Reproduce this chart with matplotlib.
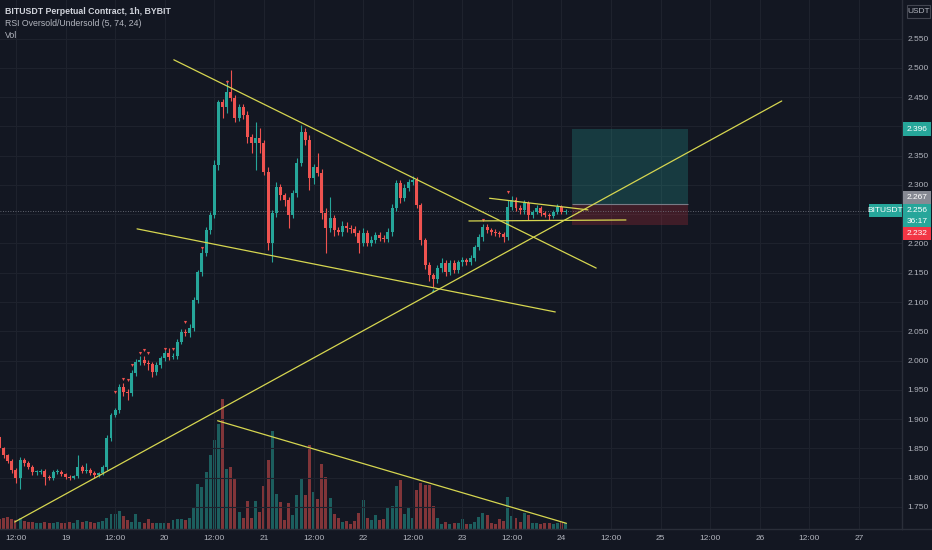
import numpy as np
import matplotlib
matplotlib.use("Agg")
import matplotlib.pyplot as plt
from matplotlib.patches import Rectangle

plt.rcParams['font.family'] = ['Liberation Sans', 'DejaVu Sans']

# ---------------- data ----------------
first_hour = 8          # first candle: 18th 08:00 (hours since 18th 00:00)
first_open = 1.869
closes = [1.850,1.838,1.828,1.813,1.799,1.830,1.825,1.818,1.809,1.809,
          1.811,1.801,1.800,1.809,1.810,1.806,1.801,1.800,1.802,1.818,
          1.811,1.813,1.808,1.804,1.808,1.818,1.868,1.907,1.915,1.955,
          1.946,1.944,1.979,1.997,2.001,1.996,1.994,1.980,1.992,2.004,
          2.013,2.006,2.008,2.032,2.049,2.047,2.056,2.103,2.151,2.184,
          2.223,2.249,2.334,2.442,2.433,2.459,2.449,2.415,2.433,2.420,
          2.382,2.372,2.380,2.372,2.322,2.201,2.252,2.297,2.283,2.274,
          2.249,2.286,2.338,2.391,2.377,2.312,2.331,2.321,2.252,2.226,
          2.244,2.223,2.220,2.230,2.226,2.224,2.218,2.201,2.218,2.201,
          2.206,2.215,2.209,2.208,2.220,2.261,2.303,2.278,2.295,2.305,
          2.309,2.266,2.206,2.163,2.146,2.140,2.158,2.167,2.151,2.167,
          2.155,2.168,2.172,2.168,2.175,2.194,2.211,2.228,2.223,2.220,
          2.218,2.216,2.211,2.262,2.274,2.261,2.257,2.269,2.249,2.254,
          2.261,2.252,2.249,2.247,2.254,2.262,2.254,2.256]
# upper / lower wick lengths in thousandths
wick_up = [4,3,3,4,3,5,4,3,3,4, 3,4,3,3,4,3,2,3,3,20, 4,12,3,3,2,3,5,3,4,5,
           6,5,4,5,6,7,5,4,5,4, 5,8,4,5,4,5,6,5,4,6, 5,5,8,3,5,20,38,5,6,5,
           6,6,28,17,5,8,6,8,5,4, 6,5,8,12,6,8,5,24,6,8, 36,5,6,8,6,5,6,5,8,5,
           6,5,4,5,6,7,5,5,6,5, 6,5,4,4,6,4,6,8,5,4, 5,4,5,4,6,4,5,6,5,4,
           4,3,4,12,8,5,4,5,4,4, 5,3,4,3,4,5,4,3]
wick_dn = [5,4,4,5,8,18,5,4,4,5, 3,14,4,5,3,4,3,4,3,3, 4,3,4,5,3,3,5,5,4,5,
           6,12,5,5,4,4,10,8,5,4, 4,5,4,5,4,5,6,5,5,6, 5,6,5,8,18,10,6,8,6,7,
           10,17,46,17,5,12,32,6,8,10, 23,5,6,6,8,21,10,6,10,42, 6,10,5,8,6,6,5,18,6,6,
           6,5,5,5,6,8,6,8,6,5, 5,6,8,6,10,14,8,6,6,5, 5,5,6,5,4,5,5,6,5,6,
           5,5,8,5,5,5,6,6,8,5, 4,5,4,6,4,4,4,3]
volumes = [10,11,12,10,9,11,8,7,7,6, 6,7,6,6,7,6,6,7,6,9, 7,8,7,6,7,8,
           11,15,15,18,13, 9,7,15,7,6, 10,6,6,6,6, 6,9,10,10,9,
           11,22,45,42,57, 74,89,105,130,60, 62,51,17,11,28, 11,28,17,43,69,
           98,35,27,9,26,
           14,34,50,34,84,37,30,65,52,31,
           15,11,7,8,5,8,16,29,11,9,
           14,9,10,21,23,43,49,15,22,11,
           39,46,44,44,23,11,5,7,5,6,
           6,10,5,5,7,12,16,14,6,5,
           10,8,32,13,11,7,16,14,6,6,
           5,6,6,5,6,7,6]

# signal markers: (candle index, price)
sig_sell = [(29,1.946),(31,1.968),(32,1.967),(33,1.992),(35,2.013),(36,2.018),
            (37,2.013),(41,2.020),(43,2.020),(46,2.066),(50,2.192),(56,2.476),
            (118,2.240),(124,2.288)]
sig_buy = [(106,2.120)]

# trend lines ((hour, price), (hour, price))
trend_lines = [((50.2, 2.514), (152.4, 2.158)),
               ((41.3, 2.225), (142.5, 2.083)),
               ((11.7, 1.724), (197.3, 2.4436)),
               ((60.8, 1.897), (145.2, 1.7217)),
               ((126.6, 2.2773), (150.4, 2.2575)),
               ((121.6, 2.2385), (159.6, 2.2402))]

# long position tool
pos_start, pos_end = 146.6, 174.5
pos_entry, pos_target, pos_stop = 2.267, 2.396, 2.232
last_price = 2.256

price_ticks = [1.75,1.80,1.85,1.90,1.95,2.00,2.05,2.10,2.15,2.20,2.25,2.30,
               2.35,2.40,2.45,2.50,2.55]
time_ticks = [12,24,36,48,60,72,84,96,108,120,132,144,156,168,180,192,204,216]
time_labels = ["12:00","19","12:00","20","12:00","21","12:00","22","12:00","23",
               "12:00","24","12:00","25","12:00","26","12:00","27"]

# ---------------- style ----------------
BG = '#131722'
GRID = '#1e222d'
TXT = '#b2b5be'
UP = '#26a69a'
DN = '#ef5350'
YEL = '#d6d650'
AXL = '#2a2e39'

W, H = 932, 550
fig = plt.figure(figsize=(W/100, H/100), dpi=100, facecolor=BG)
PR, PB = 902, 529
rect = [0, 1-PB/H, PR/W, PB/H]
axv = fig.add_axes(rect, zorder=0)
ax = fig.add_axes(rect, zorder=1)
axv.set_facecolor(BG)
ax.patch.set_alpha(0)

xlim = (8.14, 226.4)
ax.set_xlim(*xlim)
ax.set_ylim(1.7120, 2.6162)
axv.set_xlim(*xlim)
axv.set_ylim(0, 529)
axv.set_xticks([]); axv.set_yticks([])
for s in axv.spines.values():
    s.set_visible(False)

closes_a = np.array(closes)
opens_a = np.r_[first_open, closes_a[:-1]]
hours = np.arange(len(closes_a)) + first_hour
up = closes_a >= opens_a
cols = np.where(up, UP, DN)
highs = np.maximum(opens_a, closes_a) + np.array(wick_up) / 1000
lows = np.minimum(opens_a, closes_a) - np.array(wick_dn) / 1000

# volume
axv.bar(hours, volumes, width=0.72, color=cols, alpha=0.5, lw=0)

# grid
for t in time_ticks:
    ax.axvline(t, color=GRID, lw=0.8, zorder=0)
for p in price_ticks:
    ax.axhline(p, color=GRID, lw=0.8, zorder=0)

# position tool
ax.add_patch(Rectangle((pos_start, pos_entry), pos_end - pos_start, pos_target - pos_entry,
                       facecolor=UP, alpha=0.25, lw=0, zorder=1))
ax.add_patch(Rectangle((pos_start, pos_stop), pos_end - pos_start, pos_entry - pos_stop,
                       facecolor='#f23645', alpha=0.2, lw=0, zorder=1))
ax.hlines(pos_entry, pos_start, pos_end, color='#787b86', lw=0.8, zorder=1.5)

# last price dotted line
ax.axhline(last_price, color='#787b86', lw=0.6, ls=(0, (1, 2)), zorder=1.2)

# candles
ax.vlines(hours, lows, highs, colors=cols, lw=0.8, zorder=3)
body = np.maximum(np.abs(closes_a - opens_a), 0.0015)
ax.bar(hours, body, bottom=np.minimum(opens_a, closes_a), width=0.72, color=cols,
       lw=0, zorder=4)

# signals
sx = [hours[i-1] for i, _ in sig_sell]; sy = [p for _, p in sig_sell]
ax.scatter(sx, sy, marker='v', s=5, color=DN, lw=0, zorder=5)
bx = [hours[i-1] for i, _ in sig_buy]; by = [p for _, p in sig_buy]
ax.scatter(bx, by, marker='^', s=5, color=UP, lw=0, zorder=5)

# trend lines
for (h1, p1), (h2, p2) in trend_lines:
    ax.plot([h1, h2], [p1, p2], color=YEL, lw=0.9, zorder=6, solid_capstyle='round')

# axes
ax.yaxis.tick_right()
ax.set_yticks(price_ticks)
ax.set_yticklabels([f"{p:.3f}" for p in price_ticks])
ax.set_xticks(time_ticks)
ax.set_xticklabels(time_labels)
ax.tick_params(axis='y', length=0, pad=4.2, labelsize=6, labelcolor=TXT)
ax.tick_params(axis='x', length=0, pad=4.5, labelsize=6, labelcolor=TXT)
for k, s in ax.spines.items():
    if k in ('right', 'bottom'):
        s.set_color(AXL); s.set_linewidth(1)
    else:
        s.set_visible(False)
fig.add_artist(plt.Line2D([PR/W, 1], [1-PB/H, 1-PB/H], color=AXL, lw=1,
                          transform=fig.transFigure))

def box(x0, y0, x1, y1, fc, ec=None):
    fig.add_artist(Rectangle((x0/W, 1-y1/H), (x1-x0)/W, (y1-y0)/H, transform=fig.transFigure,
                             facecolor=fc, edgecolor=ec if ec else fc, lw=0.8 if ec else 0,
                             zorder=10))

def label(x, y, s, color='white', ha='center', **kw):
    fig.text(x/W, 1-y/H, s, color=color, ha=ha, va='center', fontsize=6, zorder=11, **kw)

# badges
box(903, 122, 931, 136, UP); label(917, 129, f"{pos_target:.3f}")
box(903, 191, 931, 204, '#868993'); label(917, 197.5, f"{pos_entry:.3f}")
box(903, 204, 931, 227, UP); label(917, 210, f"{last_price:.3f}"); label(917, 221.5, "36:17")
box(903, 227, 931, 240, '#f23645'); label(917, 233.5, f"{pos_stop:.3f}")
box(869, 204, 902, 217, UP); label(885.5, 210.5, "BITUSDT")
box(907, 5, 930, 18, BG, '#434651'); label(918.5, 11.5, "USDT", color=TXT)

# legend texts
fig.text(5/W, 1-12/H, "BITUSDT Perpetual Contract, 1h, BYBIT", color='#d1d4dc',
         fontsize=6.3, weight='bold', va='center')
fig.text(5/W, 1-24/H, "RSI Oversold/Undersold (5, 74, 24)", color=TXT, fontsize=6.3, va='center')
fig.text(5/W, 1-36/H, "Vol", color=TXT, fontsize=6.3, va='center')

fig.savefig("out.png", dpi=100, facecolor=BG)
